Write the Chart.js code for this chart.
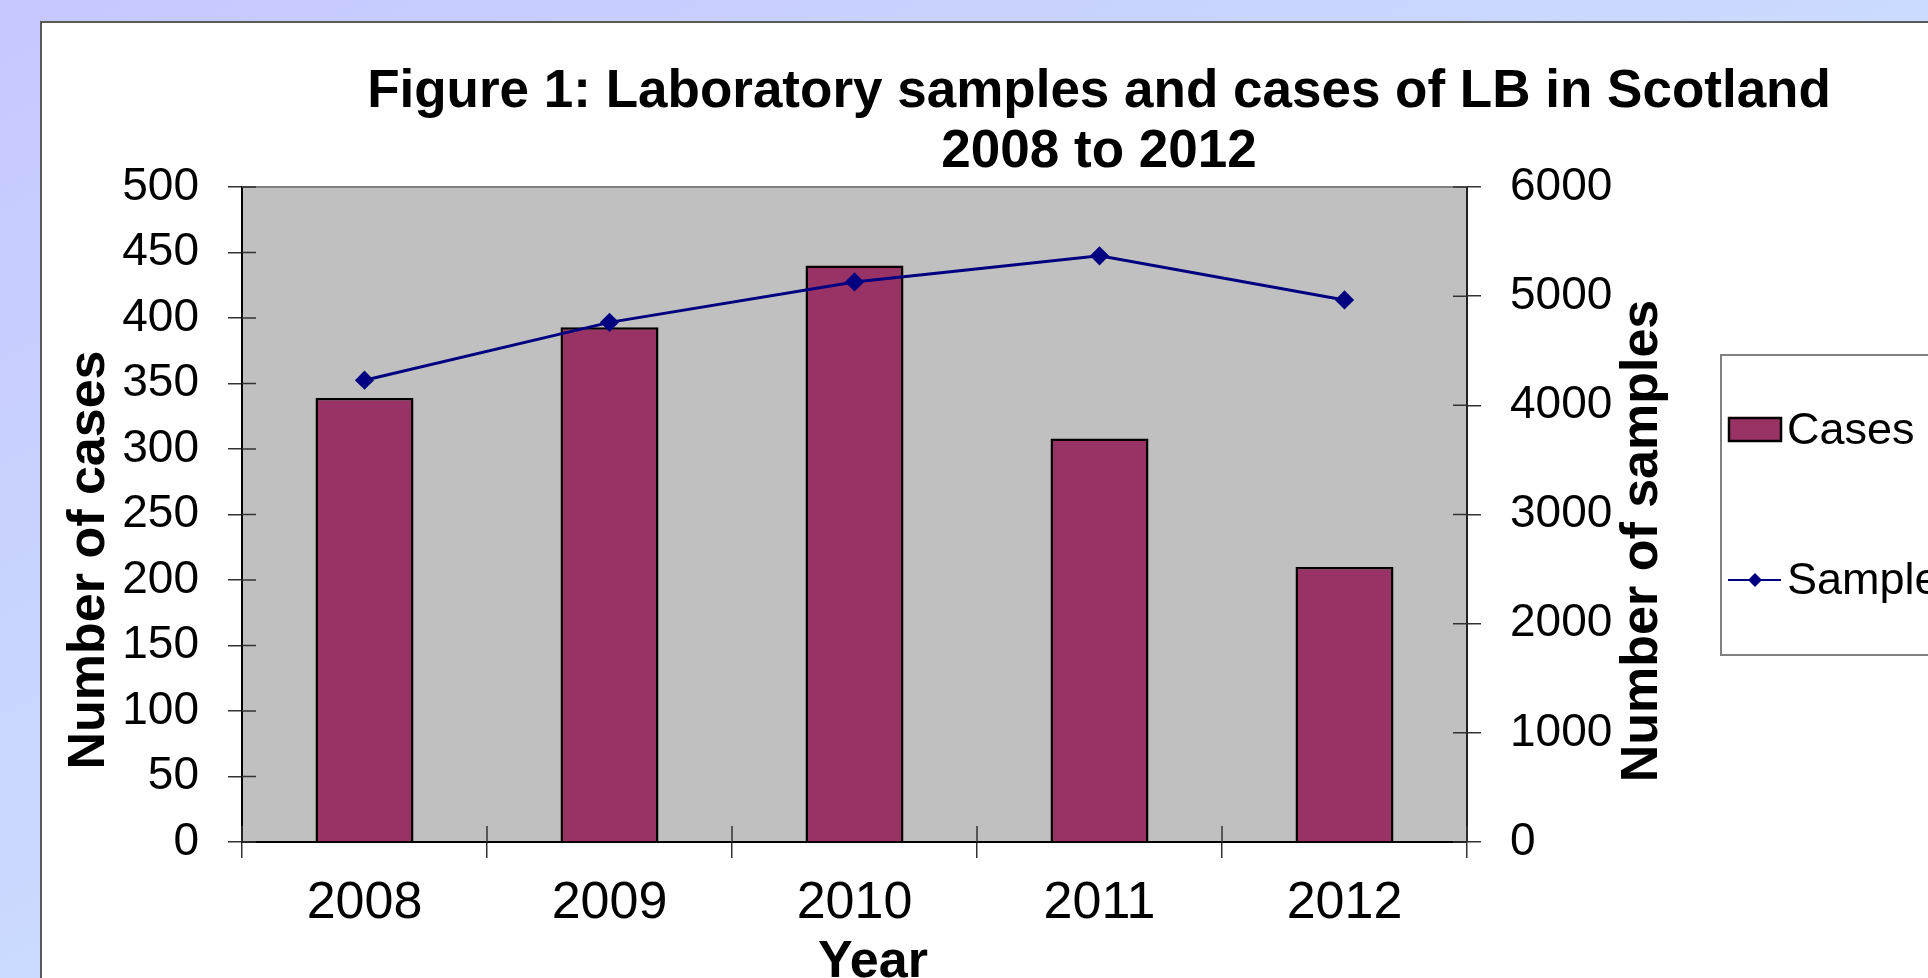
<!DOCTYPE html>
<html>
<head>
<meta charset="utf-8">
<title>Figure 1: Laboratory samples and cases of LB in Scotland</title>
<script src="https://cdn.jsdelivr.net/npm/chart.js@4"></script>
<style>
  html, body { margin: 0; padding: 0; width: 1928px; height: 978px; overflow: hidden; }
  body { background: linear-gradient(to bottom right, #c6c8ff, #d0ecff); position: relative; }
  #panel { position: absolute; left: 40px; top: 21px; width: 1900px; height: 970px;
           background: #fff; border-left: 2px solid #5a5a5a; border-top: 2px solid #5a5a5a; }
  #chart { position: absolute; left: 0; top: 0; }
</style>
</head>
<body>
<div id="panel"></div>
<canvas id="chart" width="1928" height="978"></canvas>
<script>
// values
const years = ['2008', '2009', '2010', '2011', '2012'];
const cases = [339, 393, 440, 308, 210];
const samples = [4230, 4760, 5130, 5370, 4965];
const casesAxis = [0, 500, 50];       // min, max, step
const samplesAxis = [0, 6000, 1000];

const titleLines = ['Figure 1: Laboratory samples and cases of LB in Scotland', '2008 to 2012'];

const FONT = "'Liberation Sans', Arial, sans-serif";
const chart = document.querySelector('#chart').getContext('2d');

// grey plot area, cross ticks, titles and the clipped legend box
const extras = {
  id: 'extras',
  beforeDraw(c) {
    const a = c.chartArea;
    c.ctx.save();
    c.ctx.fillStyle = '#c0c0c0';
    c.ctx.fillRect(a.left, a.top, a.right - a.left, a.bottom - a.top);
    c.ctx.restore();
  },
  beforeDatasetsDraw(c) {
    const ctx = c.ctx, a = c.chartArea;
    ctx.save();
    ctx.strokeStyle = '#808080';
    ctx.lineWidth = 2;
    ctx.beginPath();
    ctx.moveTo(a.left, a.top); ctx.lineTo(a.right, a.top);
    ctx.stroke();

    ctx.strokeStyle = '#333';
    ctx.lineWidth = 1.5;
    ctx.beginPath();
    c.scales.y.ticks.forEach((t, i) => {
      const py = c.scales.y.getPixelForTick(i);
      ctx.moveTo(a.left, py); ctx.lineTo(a.left + 14, py);
    });
    c.scales.y1.ticks.forEach((t, i) => {
      const py = c.scales.y1.getPixelForTick(i);
      ctx.moveTo(a.right - 14, py); ctx.lineTo(a.right, py);
    });
    const step = (a.right - a.left) / years.length;
    for (let i = 0; i <= years.length; i++) {
      const px = Math.round(a.left + i * step);
      ctx.moveTo(px, a.bottom - 16); ctx.lineTo(px, a.bottom);
    }
    ctx.stroke();
    ctx.restore();
  },
  afterDraw(c) {
    const ctx = c.ctx;
    ctx.save();
    ctx.fillStyle = '#000';
    ctx.textAlign = 'center';
    ctx.textBaseline = 'alphabetic';

    ctx.font = 'bold 53px ' + FONT;
    ctx.fillText(titleLines[0], 1099, 107);
    ctx.fillText(titleLines[1], 1099, 167);

    ctx.font = 'bold 52px ' + FONT;
    ctx.fillText('Year', 873, 977);

    ctx.save();
    ctx.translate(104, 560);
    ctx.rotate(-Math.PI / 2);
    ctx.fillText('Number of cases', 0, 0);
    ctx.restore();

    ctx.save();
    ctx.translate(1657, 541);
    ctx.rotate(-Math.PI / 2);
    ctx.fillText('Number of samples', 0, 0);
    ctx.restore();

    // legend
    const bar = c.data.datasets.find(d => d.type === 'bar');
    const line = c.data.datasets.find(d => d.type === 'line');
    ctx.fillStyle = '#fff';
    ctx.strokeStyle = '#808080';
    ctx.lineWidth = 2;
    ctx.fillRect(1721, 355, 220, 300);
    ctx.strokeRect(1721, 355, 220, 300);

    ctx.fillStyle = bar.backgroundColor;
    ctx.fillRect(1729, 418, 52, 23);
    ctx.strokeStyle = bar.borderColor;
    ctx.lineWidth = 2.5;
    ctx.strokeRect(1729, 418, 52, 23);

    ctx.strokeStyle = line.borderColor;
    ctx.lineWidth = 2;
    ctx.beginPath();
    ctx.moveTo(1728, 580); ctx.lineTo(1781, 580);
    ctx.stroke();
    ctx.fillStyle = line.pointBackgroundColor;
    ctx.beginPath();
    ctx.moveTo(1755, 573); ctx.lineTo(1762, 580); ctx.lineTo(1755, 587); ctx.lineTo(1748, 580);
    ctx.closePath();
    ctx.fill();

    ctx.fillStyle = '#000';
    ctx.textAlign = 'left';
    ctx.textBaseline = 'middle';
    ctx.font = '45px ' + FONT;
    ctx.fillText(bar.label, 1787, 432);
    ctx.fillText(line.label, 1787, 582);
    ctx.restore();
  }
};

new Chart(chart, {
  data: {
    labels: years,
    datasets: [
      {
        type: 'line',
        label: 'Samples',
        data: samples,
        yAxisID: 'y1',
        borderColor: '#000080',
        borderWidth: 3,
        pointStyle: 'rectRot',
        pointRadius: 7.5,
        pointBackgroundColor: '#000080',
        pointBorderColor: '#000080',
        tension: 0,
        order: 0
      },
      {
        type: 'bar',
        label: 'Cases',
        data: cases,
        yAxisID: 'y',
        backgroundColor: '#993366',
        borderColor: '#000',
        borderWidth: 2.5,
        barPercentage: 0.4,
        categoryPercentage: 1,
        order: 1
      }
    ]
  },
  options: {
    responsive: false,
    animation: false,
    devicePixelRatio: 1,
    layout: { padding: { top: 187, left: 0, right: 0, bottom: 0 } },
    plugins: {
      legend: { display: false },
      title: { display: false },
      tooltip: { enabled: false }
    },
    scales: {
      x: {
        offset: true,
        grid: { offset: true, drawOnChartArea: false, tickLength: 16, color: '#333', lineWidth: 1.5 },
        border: { color: '#000', width: 2 },
        ticks: { color: '#000', font: { family: FONT, size: 52 }, padding: 14, maxRotation: 0 },
        afterFit: s => { s.height = 136; }
      },
      y: {
        position: 'left',
        min: casesAxis[0],
        max: casesAxis[1],
        ticks: { stepSize: casesAxis[2], color: '#000', font: { family: FONT, size: 46 }, padding: 29,
                 callback: v => String(v) },
        grid: { drawOnChartArea: false, tickLength: 14, color: '#333', lineWidth: 1.5 },
        border: { color: '#000', width: 2 },
        afterFit: s => { s.width = 242; }
      },
      y1: {
        position: 'right',
        min: samplesAxis[0],
        max: samplesAxis[1],
        ticks: { stepSize: samplesAxis[2], color: '#000', font: { family: FONT, size: 46 }, padding: 29,
                 callback: v => String(v) },
        grid: { drawOnChartArea: false, tickLength: 14, color: '#333', lineWidth: 1.5 },
        border: { color: '#222', width: 2 },
        afterFit: s => { s.width = 461; }
      }
    }
  },
  plugins: [extras]
});
</script>
</body>
</html>
